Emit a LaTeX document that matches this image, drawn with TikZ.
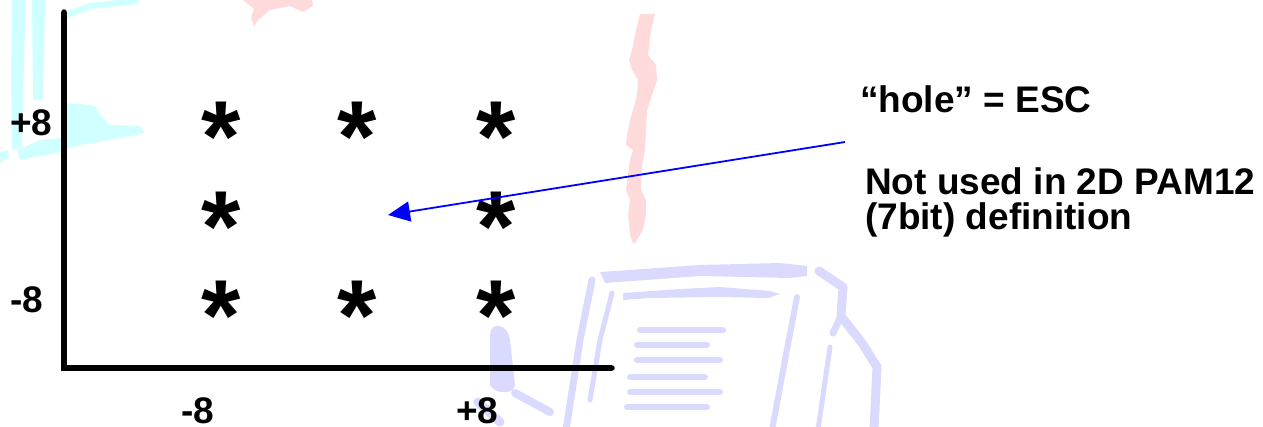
\documentclass[tikz,border=0pt]{standalone}
\usepackage{fontspec}
\setmainfont{Liberation Sans}
\usetikzlibrary{arrows.meta}
\definecolor{wmcyan}{RGB}{208,255,255}
\definecolor{wmpink}{RGB}{255,218,218}
\definecolor{wmlav}{RGB}{218,218,255}
\definecolor{arrowblue}{RGB}{0,0,255}
\begin{document}
\begin{tikzpicture}[x=1pt,y=-1pt,
  axis/.style={line width=5.5pt},
  lbl/.style={font=\fontsize{37}{37}\selectfont\bfseries, inner sep=0pt, anchor=base west},
  star/.style={font=\fontsize{101}{101}\selectfont\bfseries, inner sep=0pt, anchor=north},
  wm/.style={line cap=round, line join=round},
  pointer/.style={draw=arrowblue, line width=1.8pt, -{Triangle[length=22pt,width=20pt]}}]
\useasboundingbox (0,0) rectangle (1263,426);
% ---------- watermark ----------
\fill[wmcyan] (12,0) -- (26,0) -- (24,60) -- (22,147) -- (12,150) -- (11,80) -- cycle;
\fill[wmcyan] (32,0) -- (45,0) -- (44,60) -- (43,100) -- (33,100) -- cycle;
\fill[wmcyan] (62,103) -- (80,104) -- (95,106) -- (100,115) -- (110,125) -- (140,126) -- (145,133) -- (110,140) -- (80,145) -- (62,150) -- cycle;
\fill[wmcyan] (17,150) -- (40,140) -- (62,138) -- (62,152) -- (30,158) -- (20,160) -- cycle;
\fill[wmcyan] (0,152) -- (8,150) -- (9,158) -- (0,162) -- cycle;
\draw[wmcyan, line width=6pt, wm] (67,15) -- (90,6) -- (136,1);
\fill[wmpink] (243,0) -- (312,0) -- (313,6) -- (303,12) -- (290,6) -- (270,10) -- (258,20) -- (254,27) -- (251,18) -- (254,9) -- cycle;
\fill[wmpink] (640,14) -- (636,30) -- (632,50) -- (629,60) -- (632,70) -- (638,80) -- (637,95) -- (633,110) -- (630,120) -- (627,135) -- (626,145) -- (633,150) -- (630,160) -- (628,175) -- (626,190) -- (630,200) -- (628,215) -- (630,235) -- (633,243)
  -- (635,243) -- (643,230) -- (646,215) -- (646,200) -- (641,190) -- (642,165) -- (645,150) -- (646,130) -- (647,110) -- (652,95) -- (657,80) -- (656,65) -- (648,55) -- (651,30) -- (655,14) -- cycle;
\fill[wmlav] (600,272) -- (700,265) -- (780,263) -- (807,266) -- (807,276) -- (790,278) -- (700,276) -- (605,283) -- cycle;
\fill[wmlav] (623,293) -- (680,289) -- (720,287) -- (770,291) -- (780,294) -- (768,298) -- (720,297) -- (650,298) -- (623,300) -- cycle;
\draw[wmlav, line width=6pt, wm] (640,330) -- (723,330);
\draw[wmlav, line width=6pt, wm] (637,345) -- (707,345);
\draw[wmlav, line width=6pt, wm] (637,360) -- (720,360);
\draw[wmlav, line width=6pt, wm] (630,377) -- (705,377);
\draw[wmlav, line width=6pt, wm] (630,392) -- (720,392);
\draw[wmlav, line width=6pt, wm] (627,407) -- (707,407);
\draw[wmlav, line width=7pt, wm] (592,280) -- (580,340) -- (566,430);
\draw[wmlav, line width=5pt, wm] (612,293) -- (600,340) -- (590,400);
\draw[wmlav, line width=6pt, wm] (797,297) -- (785,360) -- (772,430);
\draw[wmlav, line width=9pt, wm] (819,271) -- (843,287) -- (841,316) -- (862,343) -- (877,367) -- (874,430);
\draw[wmlav, line width=7pt, wm] (841,316) -- (833,333);
\draw[wmlav, line width=5pt, wm] (830,347) -- (818,430);
\fill[wmlav] (490,335) .. controls (490,322) and (507,322) .. (510,340) -- (515,385) .. controls (515,394) and (495,395) .. (490,385) -- cycle;
\draw[wmlav, line width=8pt, wm] (515,393) -- (550,412);
\draw[wmlav, line width=9pt, wm] (478,402) -- (500,422);
% ---------- axes ----------
\coordinate (ytop) at (64,12);
\coordinate (orig) at (64,368);
\coordinate (xend) at (612,368);
\draw[axis] (ytop) -- (orig) -- (xend);
\fill (ytop) circle (2.75pt);
\fill (xend) circle (2.75pt);
% ---------- axis labels ----------
\node[lbl] (yp) at (10,135) {+8};
\node[lbl] (ym) at (10,312) {-8};
\node[lbl] (xm) at (181,423) {-8};
\node[lbl] (xp) at (456,423) {+8};
% ---------- constellation ----------
\node[star] (s11) at (221,102) {*};
\node[star] (s12) at (357,102) {*};
\node[star] (s13) at (496,102) {*};
\node[star] (s21) at (221,192) {*};
\node[star] (s23) at (496,192) {*};
\node[star] (s31) at (221,281) {*};
\node[star] (s32) at (357,281) {*};
\node[star] (s33) at (496,281) {*};
% ---------- annotation ----------
\coordinate (hole) at (388,215);
\coordinate (src) at (845,142);
\draw[pointer] (src) -- (hole);
\node[lbl] (t1) at (860,112) {“hole” = ESC};
\node[lbl] (t2) at (865,194) {Not used in 2D PAM12};
\node[lbl] (t3) at (865,229) {(7bit) definition};
\end{tikzpicture}
\end{document}
